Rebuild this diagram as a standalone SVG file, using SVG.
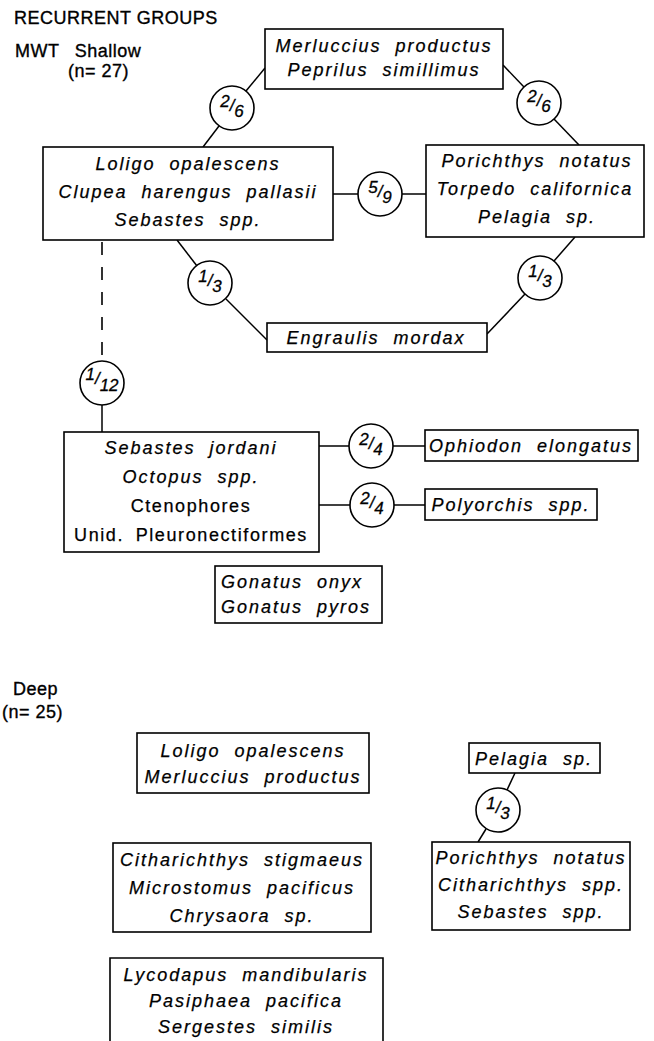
<svg xmlns="http://www.w3.org/2000/svg" width="654" height="1041" viewBox="0 0 654 1041">
<style>
.bx{fill:#fff;stroke:#000;stroke-width:1.6}
.cn{fill:none;stroke:#000;stroke-width:1.5}
.dash{fill:none;stroke:#000;stroke-width:1.6;stroke-dasharray:13 12}
.ci{fill:#fff;stroke:#000;stroke-width:1.6}
.sp{font-family:"Liberation Sans",Arial,sans-serif;font-size:18px;font-style:italic;letter-spacing:2px;word-spacing:7px;text-anchor:middle;fill:#000;stroke:#000;stroke-width:0.25}
.up{font-family:"Liberation Sans",Arial,sans-serif;font-size:18px;letter-spacing:1.6px;word-spacing:5px;text-anchor:middle;fill:#000;stroke:#000;stroke-width:0.25}
.hd{font-family:"Liberation Sans",Arial,sans-serif;font-size:18px;letter-spacing:0.5px;fill:#000;stroke:#000;stroke-width:0.35}
.fr{font-family:"Liberation Sans",Arial,sans-serif;font-size:17px;font-style:italic;text-anchor:middle;fill:#000;stroke:#000;stroke-width:0.3}
</style>
<rect width="654" height="1041" fill="#fff"/>
<g id="headers">
<text class="hd" x="14" y="24">RECURRENT GROUPS</text>
<text class="hd" x="15" y="57" letter-spacing="1.5" word-spacing="10">MWT Shallow</text>
<text class="hd" x="68" y="77" letter-spacing="1" word-spacing="0">(n= 27)</text>
<text class="hd" x="13" y="695" letter-spacing="1.5">Deep</text>
<text class="hd" x="2" y="718" letter-spacing="1">(n= 25)</text>
</g>
<g id="connectors">
<line class="cn" x1="265" y1="68" x2="246" y2="91"/>
<line class="cn" x1="219" y1="126" x2="203" y2="147"/>
<line class="cn" x1="503" y1="65" x2="524" y2="87"/>
<line class="cn" x1="554" y1="119" x2="579" y2="145"/>
<line class="cn" x1="333" y1="194" x2="358" y2="194"/>
<line class="cn" x1="402" y1="194" x2="426" y2="194"/>
<line class="cn" x1="177" y1="240" x2="197" y2="266"/>
<line class="cn" x1="226" y1="299" x2="267" y2="340"/>
<line class="cn" x1="575" y1="237" x2="554" y2="261"/>
<line class="cn" x1="525" y1="294" x2="487" y2="334"/>
<line class="dash" x1="102" y1="242" x2="102" y2="361"/>
<line class="cn" x1="102" y1="405" x2="102" y2="432"/>
<line class="cn" x1="319" y1="446" x2="349" y2="446"/>
<line class="cn" x1="393" y1="446" x2="425" y2="446"/>
<line class="cn" x1="319" y1="505" x2="350" y2="505"/>
<line class="cn" x1="394" y1="505" x2="425" y2="505"/>
<line class="cn" x1="515" y1="773" x2="507" y2="790"/>
<line class="cn" x1="486" y1="829" x2="478" y2="842"/>
</g>
<g id="c-26a"><circle class="ci" cx="232" cy="108" r="22"/><text class="fr" x="232" y="107">2<tspan dy="4">/</tspan><tspan dy="6">6</tspan></text></g>
<g id="c-26b"><circle class="ci" cx="539" cy="103" r="22"/><text class="fr" x="539" y="102">2<tspan dy="4">/</tspan><tspan dy="6">6</tspan></text></g>
<g id="c-59"><circle class="ci" cx="380" cy="194" r="22"/><text class="fr" x="380" y="193">5<tspan dy="4">/</tspan><tspan dy="6">9</tspan></text></g>
<g id="c-13a"><circle class="ci" cx="210" cy="283" r="22"/><text class="fr" x="210" y="282">1<tspan dy="4">/</tspan><tspan dy="6">3</tspan></text></g>
<g id="c-13b"><circle class="ci" cx="540" cy="278" r="22"/><text class="fr" x="540" y="277">1<tspan dy="4">/</tspan><tspan dy="6">3</tspan></text></g>
<g id="c-112"><circle class="ci" cx="102" cy="383" r="22"/><text class="fr" x="102" y="380">1<tspan dy="4">/</tspan><tspan dy="7">12</tspan></text></g>
<g id="c-24a"><circle class="ci" cx="371" cy="446" r="22"/><text class="fr" x="371" y="445">2<tspan dy="4">/</tspan><tspan dy="6">4</tspan></text></g>
<g id="c-24b"><circle class="ci" cx="372" cy="505" r="22"/><text class="fr" x="372" y="504">2<tspan dy="4">/</tspan><tspan dy="6">4</tspan></text></g>
<g id="c-13c"><circle class="ci" cx="498" cy="810" r="22"/><text class="fr" x="498" y="809">1<tspan dy="4">/</tspan><tspan dy="6">3</tspan></text></g>
<g id="n-merluccius">
<rect class="bx" x="265" y="29" width="238" height="60"/>
<text class="sp" x="384" y="52">Merluccius productus</text>
<text class="sp" x="384" y="76">Peprilus simillimus</text>
</g>
<g id="n-loligo">
<rect class="bx" x="43" y="147" width="290" height="93"/>
<text class="sp" x="188" y="170">Loligo opalescens</text>
<text class="sp" x="188" y="198">Clupea harengus pallasii</text>
<text class="sp" x="188" y="226">Sebastes spp.</text>
</g>
<g id="n-porichthys">
<rect class="bx" x="426" y="145" width="218" height="92"/>
<text class="sp" x="537" y="167">Porichthys notatus</text>
<text class="sp" x="535" y="195">Torpedo californica</text>
<text class="sp" x="537" y="223">Pelagia sp.</text>
</g>
<g id="n-engraulis">
<rect class="bx" x="267" y="323" width="220" height="29"/>
<text class="sp" x="376" y="344" word-spacing="16">Engraulis mordax</text>
</g>
<g id="n-sebastes">
<rect class="bx" x="64" y="432" width="255" height="120"/>
<text class="sp" x="191" y="454">Sebastes jordani</text>
<text class="sp" x="191" y="483">Octopus spp.</text>
<text class="up" x="191" y="512">Ctenophores</text>
<text class="up" x="191" y="541">Unid. Pleuronectiformes</text>
</g>
<g id="n-ophiodon">
<rect class="bx" x="425" y="430" width="213" height="31"/>
<text class="sp" x="531" y="452">Ophiodon elongatus</text>
</g>
<g id="n-polyorchis">
<rect class="bx" x="425" y="489" width="172" height="31"/>
<text class="sp" x="511" y="511">Polyorchis spp.</text>
</g>
<g id="n-gonatus">
<rect class="bx" x="215" y="566" width="167" height="57"/>
<text class="sp" x="221" y="588" style="text-anchor:start">Gonatus onyx</text>
<text class="sp" x="221" y="613" style="text-anchor:start">Gonatus pyros</text>
</g>
<g id="d-loligo">
<rect class="bx" x="137" y="733" width="232" height="60"/>
<text class="sp" x="253" y="757">Loligo opalescens</text>
<text class="sp" x="253" y="783">Merluccius productus</text>
</g>
<g id="d-citharichthys">
<rect class="bx" x="113" y="843" width="258" height="89"/>
<text class="sp" x="242" y="866">Citharichthys stigmaeus</text>
<text class="sp" x="242" y="894">Microstomus pacificus</text>
<text class="sp" x="242" y="922">Chrysaora sp.</text>
</g>
<g id="d-lycodapus">
<path class="bx" d="M110 1041 V958 H383 V1041"/>
<text class="sp" x="246" y="981">Lycodapus mandibularis</text>
<text class="sp" x="246" y="1007">Pasiphaea pacifica</text>
<text class="sp" x="246" y="1033">Sergestes similis</text>
</g>
<g id="d-pelagia">
<rect class="bx" x="469" y="743" width="131" height="30"/>
<text class="sp" x="534" y="765">Pelagia sp.</text>
</g>
<g id="d-porichthys">
<rect class="bx" x="432" y="842" width="198" height="88"/>
<text class="sp" x="531" y="864">Porichthys notatus</text>
<text class="sp" x="531" y="891" word-spacing="18">Citharichthys spp.</text>
<text class="sp" x="531" y="918">Sebastes spp.</text>
</g>
</svg>
